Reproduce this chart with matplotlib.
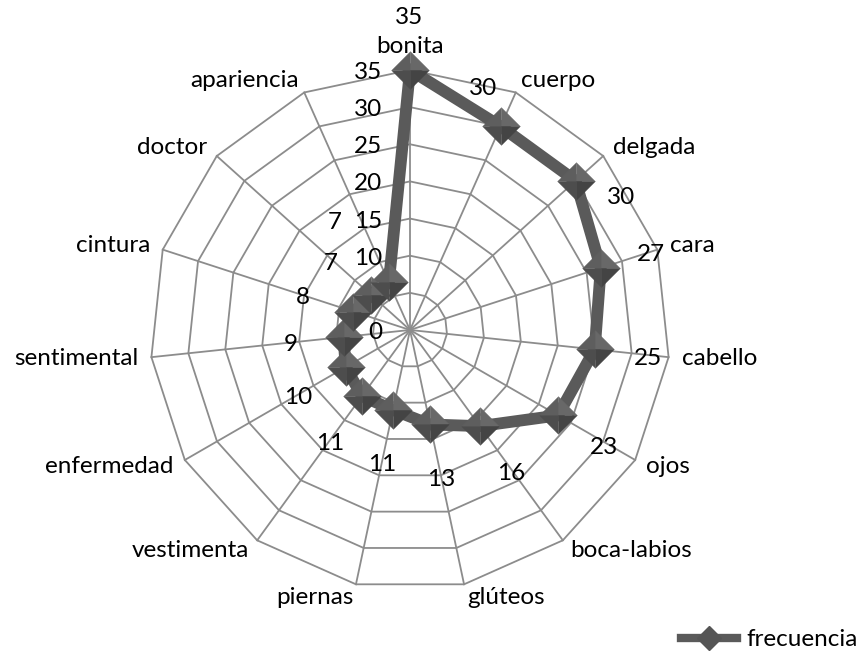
import numpy as np
import matplotlib
matplotlib.use("Agg")
import matplotlib.pyplot as plt
from matplotlib.lines import Line2D

plt.rcParams['font.family'] = ['Lato', 'DejaVu Sans']

# data
categorias = ['bonita', 'cuerpo', 'delgada', 'cara', 'cabello', 'ojos', 'boca-labios',
              'glúteos', 'piernas', 'vestimenta', 'enfermedad', 'sentimental',
              'cintura', 'doctor', 'apariencia']
frecuencia = [35, 30, 30, 27, 25, 23, 16, 13, 11, 11, 10, 9, 8, 7, 7]
niveles = [0, 5, 10, 15, 20, 25, 30, 35]

# data label offsets from their point, in pixels (x right, y down), as placed in the original
label_dx = [-1, -18, 45, 50, 53, 46, 31, 11, -11, -32, -47, -53, -51, -41, -54]
label_dy = [-52, -38, 17, -13, 9, 32, 47, 55, 55, 47, 30, 8, -14, -32, -60]

FS = 17.5
GRID = '#8c8c8c'
SERIE = '#5a5a5a'
PX = 0.72  # points per pixel at dpi 100

n = len(categorias)
theta = np.linspace(0, 2 * np.pi, n, endpoint=False)

fig = plt.figure(figsize=(8.6, 6.57), dpi=100)
ax = fig.add_axes([0.1744, 0.102, 0.6047, 0.7915], projection='polar')
ax.set_theta_zero_location('N')
ax.set_theta_direction(-1)
ax.set_ylim(0, 35)
ax.grid(False)
ax.spines['polar'].set_visible(False)
ax.set_xticks([])
ax.set_yticks([])
ax.patch.set_visible(False)

# polygon grid rings and spokes
t_closed = np.append(theta, theta[0])
for lv in niveles[1:]:
    ax.plot(t_closed, [lv] * (n + 1), color=GRID, lw=1.3, zorder=1, clip_on=False)
for t in theta:
    ax.plot([t, t], [0, 35], color=GRID, lw=1.3, zorder=1, clip_on=False)

# axis value labels along the vertical spoke
for lv in niveles:
    ax.annotate(str(lv), xy=(0, lv), xytext=(-28 * PX, -2.5 * PX), textcoords='offset points',
                ha='right', va='center', fontsize=FS, color='black', zorder=2)

# category labels
for t, cat in zip(theta, categorias):
    s, c = np.sin(t), np.cos(t)
    ha = 'left' if s > 0.15 else ('right' if s < -0.15 else 'center')
    va = 'bottom' if c > 0.95 else 'center'
    ax.annotate(cat, xy=(t, 35), xytext=(13 * s * PX, 13 * c * PX), textcoords='offset points',
                ha=ha, va=va, fontsize=FS, color='black', annotation_clip=False)

# series line
vals_closed = frecuencia + frecuencia[:1]
ax.plot(t_closed, vals_closed, color=SERIE, lw=8.5, solid_joinstyle='miter', zorder=4, clip_on=False)

# pyramid-like diamond markers, drawn as four facets
facetas = [
    ([(0, 0), (-1, 0), (0, 1)], '#5e5e5e'),
    ([(0, 0), (0, 1), (1, 0)], '#686868'),
    ([(0, 0), (1, 0), (0, -1)], '#444444'),
    ([(0, 0), (0, -1), (-1, 0)], '#4d4d4d'),
]
for verts, col in facetas:
    ax.plot(theta, frecuencia, linestyle='none', marker=verts, markersize=27,
            markerfacecolor=col, markeredgecolor=col, markeredgewidth=0.3, zorder=5, clip_on=False)

# data labels
for t, v, dx, dy in zip(theta, frecuencia, label_dx, label_dy):
    ax.annotate(str(v), xy=(t, v), xytext=(dx * PX, -dy * PX), textcoords='offset points',
                ha='center', va='center', fontsize=FS, color='black', zorder=6,
                annotation_clip=False)

# legend
handle = Line2D([], [], color=SERIE, lw=6, marker='D', markersize=12,
                markerfacecolor='#555555', markeredgecolor='#555555')
fig.legend([handle], ['frecuencia'], loc='lower right', bbox_to_anchor=(1.023, -0.023),
           frameon=False, fontsize=FS, handlelength=2.3, handletextpad=0.4, borderpad=0.4)

fig.savefig('out.png', dpi=100)
